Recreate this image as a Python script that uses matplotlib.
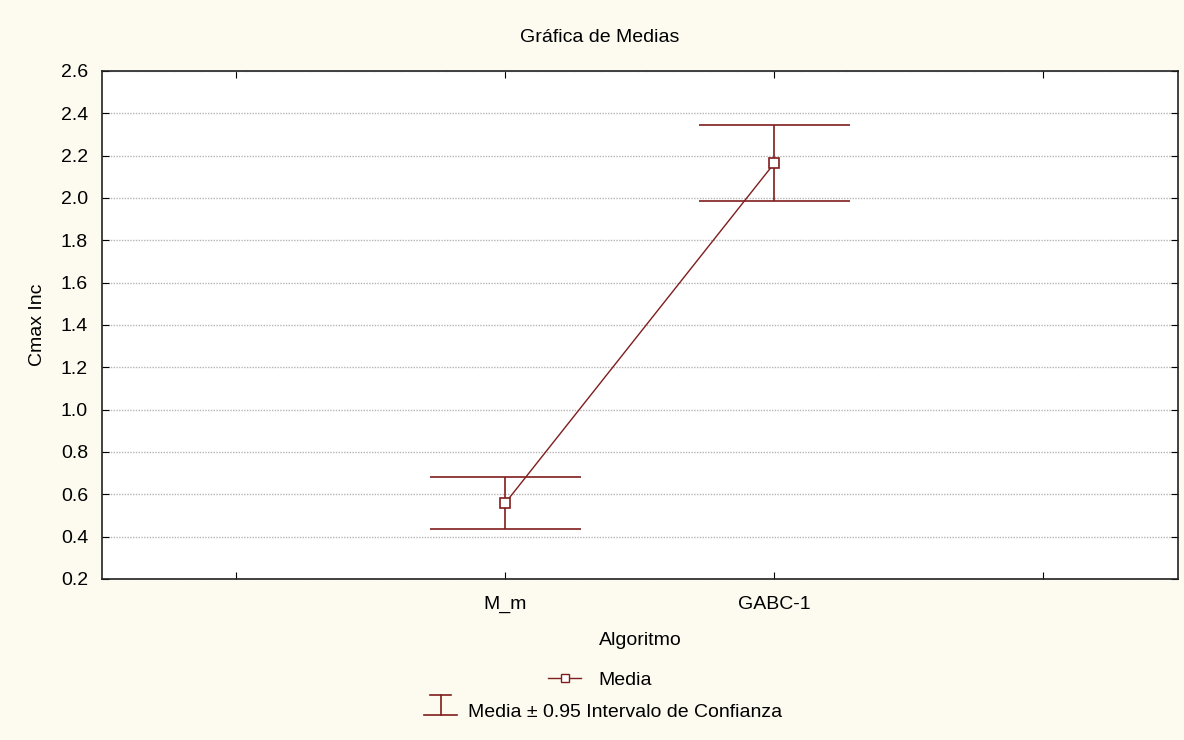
import matplotlib
matplotlib.use("Agg")
import matplotlib.pyplot as plt
from matplotlib.legend_handler import HandlerBase
from matplotlib.lines import Line2D
import numpy as np

# medias por algoritmo con intervalo de confianza al 95 %
algoritmos = ["M_m", "GABC-1"]
media = [0.56, 2.165]
ic_inf = [0.437, 1.986]
ic_sup = [0.682, 2.345]

plt.rcParams["font.family"] = ["Liberation Sans", "DejaVu Sans"]

ROJO = "#7f1d1d"
FONDO = "#fdfbf0"
FS = 14


class HandlerIntervalo(HandlerBase):
    """Símbolo de la leyenda: tapa corta arriba, tramo vertical y tapa larga abajo."""

    def create_artists(self, legend, orig_handle, xdescent, ydescent,
                       width, height, fontsize, trans):
        x0, x1 = -xdescent, -xdescent + width
        xc = (x0 + x1) / 2
        y_bajo = -ydescent + 0.14 * height
        y_alto = -ydescent + 1.6 * height
        kw = dict(color=ROJO, linewidth=1.2, transform=trans)
        return [
            Line2D([x0 + 0.18 * width, x1 - 0.18 * width], [y_alto, y_alto], **kw),
            Line2D([xc, xc], [y_bajo, y_alto], **kw),
            Line2D([x0, x1], [y_bajo, y_bajo], **kw),
        ]


fig = plt.figure(figsize=(11.84, 7.4), dpi=100, facecolor=FONDO)
ax = fig.add_axes([0.0861, 0.2176, 0.9088, 0.6865])
ax.set_facecolor("white")

pos = np.arange(1, len(algoritmos) + 1)
media = np.array(media)
ic_inf = np.array(ic_inf)
ic_sup = np.array(ic_sup)

# barras de error: tramo vertical y tapas anchas
ax.vlines(pos, ic_inf, ic_sup, color=ROJO, linewidth=1.2, zorder=3)
ax.hlines(ic_inf, pos - 0.28, pos + 0.28, color=ROJO, linewidth=1.2, zorder=3)
ax.hlines(ic_sup, pos - 0.28, pos + 0.28, color=ROJO, linewidth=1.2, zorder=3)

# línea de medias
linea, = ax.plot(pos, media, color=ROJO, linewidth=1.0, marker="s",
                 markersize=7.5, markerfacecolor="white",
                 markeredgecolor=ROJO, markeredgewidth=1.2, zorder=4)

ax.set_xlim(-0.5, 3.5)
ax.set_ylim(0.2, 2.6)
ax.set_xticks([0, 1, 2, 3])
ax.set_xticklabels([""] + algoritmos + [""])
ax.set_yticks(np.arange(0.2, 2.61, 0.2))
ax.set_yticklabels([f"{v:.1f}" for v in np.arange(0.2, 2.61, 0.2)])
ax.tick_params(direction="in", top=True, right=True, length=5,
               labelsize=FS, color="black", pad=10)
ax.tick_params(axis="x", pad=12)
for s in ax.spines.values():
    s.set_linewidth(1.2)
    s.set_color("#222222")

ax.yaxis.grid(True, color="#b5b5b5", linestyle=(0, (1, 1)), linewidth=1.0)
ax.set_axisbelow(True)

fig.text(600 / 1184, 1 - 37 / 740, "Gráfica de Medias", fontsize=FS,
         ha="center", va="center")
ax.set_xlabel("Algoritmo", fontsize=FS)
ax.xaxis.set_label_coords(0.5, -0.104)
ax.set_ylabel("Cmax Inc", fontsize=FS)
ax.yaxis.set_label_coords(-0.052, 0.5)

# leyenda en dos filas centradas
marca = Line2D([], [], color=ROJO, linewidth=1.0, marker="s", markersize=6,
               markerfacecolor="white", markeredgecolor=ROJO, markeredgewidth=1.0)
fig.legend([marca], ["Media"], loc="center",
           bbox_to_anchor=(600 / 1184, 1 - 680 / 740), frameon=False,
           fontsize=FS, handlelength=1.65, handletextpad=0.9, borderpad=0)
fig.legend([object()], ["Media \u00b1 0.95 Intervalo de Confianza"], loc="center",
           bbox_to_anchor=(603 / 1184, 1 - 712 / 740), frameon=False,
           fontsize=FS, handlelength=1.7, handletextpad=0.55, borderpad=0,
           handler_map={object: HandlerIntervalo()})

fig.savefig("out.png", dpi=100, facecolor=FONDO)
